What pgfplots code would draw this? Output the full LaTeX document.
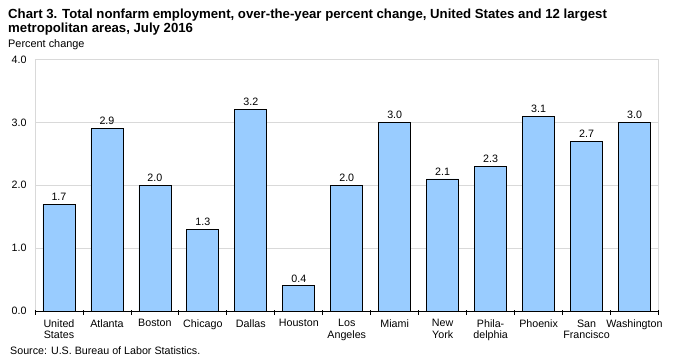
\documentclass[border=0pt]{standalone}
\usepackage{fontspec}
\setmainfont{Liberation Sans}
\usepackage{pgfplots}
\pgfplotsset{compat=1.18}
\definecolor{barblue}{HTML}{99CCFF}
\definecolor{gridgray}{HTML}{D9D9D9}
\begin{document}
\begin{tikzpicture}[x=1pt,y=1pt]
\path[use as bounding box] (0,0) rectangle (673,-362);
\node[anchor=base west, font=\fontsize{13.2}{14.3}\selectfont\bfseries, inner sep=0] at (8,-18.3) {Chart 3. Total nonfarm employment, over-the-year percent change, United States and 12 largest};
\node[anchor=base west, font=\fontsize{13.2}{14.3}\selectfont\bfseries, inner sep=0] at (8,-32.5) {metropolitan areas, July 2016};
\node[anchor=base west, font=\fontsize{10.9}{12}\selectfont, inner sep=0] at (8,-47.7) {Percent change};
\node[anchor=base west, font=\fontsize{10.7}{12}\selectfont, inner sep=0] at (10,-354) {Source: U.S. Bureau of Labor Statistics.};
\begin{axis}[
  at={(35pt,-311pt)}, anchor=south west,
  scale only axis, width=623.5pt, height=251.5pt,
  xmin=-0.5, xmax=12.5, ymin=0, ymax=4,
  /pgf/number format/assume math mode=true,
  ytick={0,1,2,3,4},
  yticklabel style={font=\fontsize{10.7}{12}\selectfont, /pgf/number format/.cd, fixed, fixed zerofill, precision=1},
  ytick style={draw=none},
  ymajorgrids, grid style={gridgray, line width=0.8pt},
  axis line style={draw=gridgray, line width=0.8pt},
  xtick pos=bottom,
  tick align=outside,
  major tick length=5pt,
  xtick={0,...,12},
  xtick style={draw=none},
  xticklabels={{United\\States},Atlanta,Boston,Chicago,Dallas,Houston,{Los\\Angeles},Miami,{New\\York},{Phila-\\delphia},Phoenix,{San\\Francisco},Washington},
  xticklabel style={align=center, font=\fontsize{10.7}{11.5}\selectfont},
  extra x ticks={-0.5,0.5,...,12.5},
  extra x tick labels={},
  extra x tick style={grid=none, xtick style={draw=black, line width=0.8pt, yshift=1.5pt}},
  ybar, bar width=32pt,
  nodes near coords,
  nodes near coords style={font=\fontsize{10.7}{12}\selectfont, /pgf/number format/.cd, fixed, fixed zerofill, precision=1},
  clip=false,
]
\addplot[fill=barblue, draw=black, line width=0.8pt] coordinates {
(0,1.7) (1,2.9) (2,2.0) (3,1.3) (4,3.2) (5,0.4) (6,2.0) (7,3.0) (8,2.1) (9,2.3) (10,3.1) (11,2.7) (12,3.0)
};
\draw[black, line width=0.8pt] (rel axis cs:0,0) -- (rel axis cs:1,0);
\end{axis}
\end{tikzpicture}
\end{document}
